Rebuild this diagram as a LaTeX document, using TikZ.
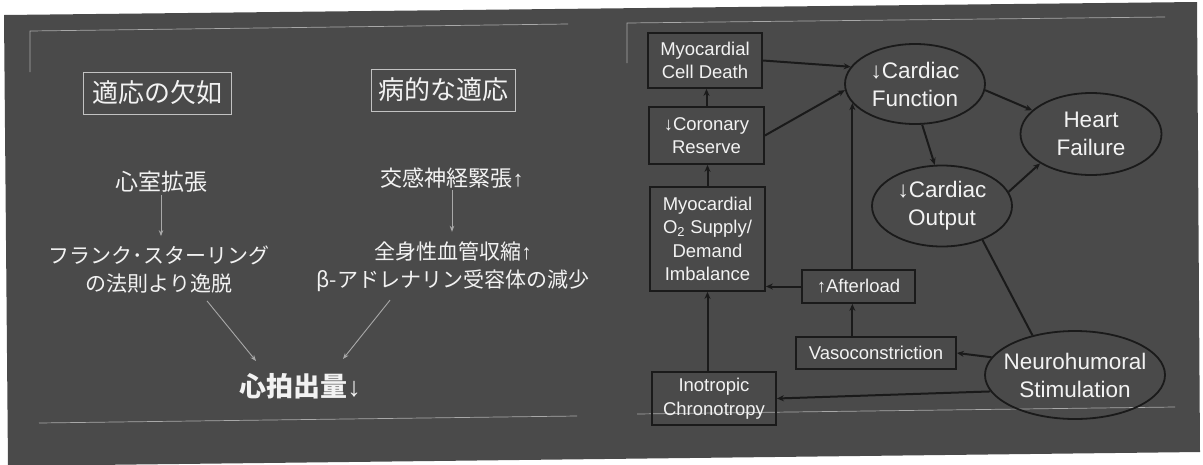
\documentclass[tikz,border=0pt]{standalone}
\usepackage{fontspec}
\setmainfont{Liberation Sans}
\newfontfamily\jp{Noto Sans CJK JP}
\newfontfamily\lat{Liberation Sans}
\usetikzlibrary{shapes.geometric,arrows.meta,calc}
\definecolor{bg}{HTML}{4A4A4A}
\definecolor{ink}{HTML}{1A1A1A}
\definecolor{txt}{HTML}{F2F2F2}
\definecolor{deco}{HTML}{A8A8A8}
\begin{document}
\begin{tikzpicture}[x=1pt,y=-1pt,
  jtext/.style={text=txt, font=\jp\fontsize{21}{28}\selectfont, align=center, inner sep=2pt},
  jbox/.style={draw=deco!70!white, line width=0.8pt, text=txt, font=\jp\fontsize{26}{30}\selectfont, minimum width=148pt, minimum height=42pt, inner sep=0pt},
  larr/.style={draw=deco, line width=0.9pt, -{Stealth[length=6pt,width=4.5pt]}},
  ebox/.style={draw=ink, line width=1.8pt, text=txt, font=\fontsize{18.5}{23.5}\selectfont, align=center, inner sep=0pt},
  eell/.style={ellipse, draw=ink, line width=1.8pt, text=txt, font=\fontsize{22.5}{28}\selectfont, align=center, inner xsep=-20pt, inner ysep=0pt},
  darr/.style={draw=ink, line width=2pt, -{Stealth[length=7pt,width=6pt]}},
  dline/.style={draw=ink, line width=2pt},
  decoline/.style={draw=deco, line width=0.7pt}
]
\useasboundingbox (0,0) rectangle (1203,464);
\fill[white] (0,0) rectangle (1203,464);
\fill[bg] (4,15) -- (1197,2) -- (1200,452) -- (8,466) -- cycle;

% decorative lines
\draw[decoline] (30,72) -- (30,31) -- (568,24);
\draw[decoline] (627,63) -- (627,23) -- (1165,17);
\draw[decoline] (39,423) -- (577,416);
\draw[decoline] (637,414) -- (1175,407);

% left panel
\node[jbox] (lack) at (157,93) {適応の欠如};
\node[jbox, minimum width=144pt] (patho) at (443,90) {病的な適応};
\node[jtext, font=\jp\fontsize{23}{26}\selectfont] (dil) at (161,182) {心室拡張};
\node[jtext] (fs) at (159,270) {フランク･スターリング\\の法則より逸脱};
\node[jtext, font=\jp\fontsize{22}{26}\selectfont] (sym) at (452,178) {交感神経緊張{\lat ↑}};
\node[jtext] (vas) at (453,267) {全身性血管収縮{\lat ↑}\\β-アドレナリン受容体の減少};
\node[jtext, font=\jp\bfseries\fontsize{27}{30}\selectfont] (co) at (300,386) {心拍出量{\lat ↓}};

\draw[larr] (dil.south) -- ($(dil.south |- fs.north)+(0,-8)$);
\draw[larr] (sym.south) -- ($(sym.south |- vas.north)+(0,-8)$);
\draw[larr] ($(fs.south)+(48,5)$) -- ($(co.north)+(-44,-10)$);
\draw[larr] ($(vas.south)+(-63,6)$) -- ($(co.north)+(43,-12)$);

% right panel
\node[ebox, minimum width=114pt, minimum height=55pt] (celldeath) at (705,60.5) {Myocardial\\Cell Death};
\node[ebox, minimum width=115pt, minimum height=57pt] (coronary) at (706.5,135.5) {↓Coronary\\Reserve};
\node[ebox, minimum width=115pt, minimum height=104pt] (supply) at (707.5,239) {Myocardial\\O\textsubscript{2} Supply/\\Demand\\Imbalance};
\node[ebox, minimum width=113pt, minimum height=33pt] (afterload) at (858.5,286.5) {↑Afterload};
\node[ebox, minimum width=160pt, minimum height=32pt] (vaso) at (876,353) {Vasoconstriction};
\node[ebox, minimum width=124pt, minimum height=53pt] (ino) at (714,398.5) {Inotropic\\Chronotropy};

\node[eell, minimum width=140pt, minimum height=80pt] (func) at (915,84) {↓Cardiac\\Function};
\node[eell, minimum width=141pt, minimum height=82pt] (hf) at (1091,134) {Heart\\Failure};
\node[eell, minimum width=140pt, minimum height=81pt] (output) at (942,206) {↓Cardiac\\Output};
\node[eell, minimum width=180pt, minimum height=88pt] (neuro) at (1075,375) {Neurohumoral\\Stimulation};

\draw[darr] (celldeath.east) -- (func.165);
\draw[darr] (coronary.east) -- (func.185);
\draw[darr] (coronary.north) -- (coronary.north |- celldeath.south);
\draw[darr] (supply.north) -- (supply.north |- coronary.south);
\draw[darr] (supply.south |- ino.north) -- (supply.south);
\draw[darr] (afterload.west) -- (afterload.west -| supply.east);
\draw[darr] (func.197 |- afterload.north) -- (func.197);
\draw[darr] (func.197 |- vaso.north) -- (func.197 |- afterload.south);
\draw[darr] (neuro.168) -- (vaso.east);
\draw[darr] (neuro.191) -- (ino.east);
\draw[darr] (func.280) -- (output.100);
\draw[darr] (func.355) -- (hf.158);
\draw[darr] (output.12) -- (hf.210);
\draw[dline] (output.320) -- (neuro.137);
\end{tikzpicture}
\end{document}
